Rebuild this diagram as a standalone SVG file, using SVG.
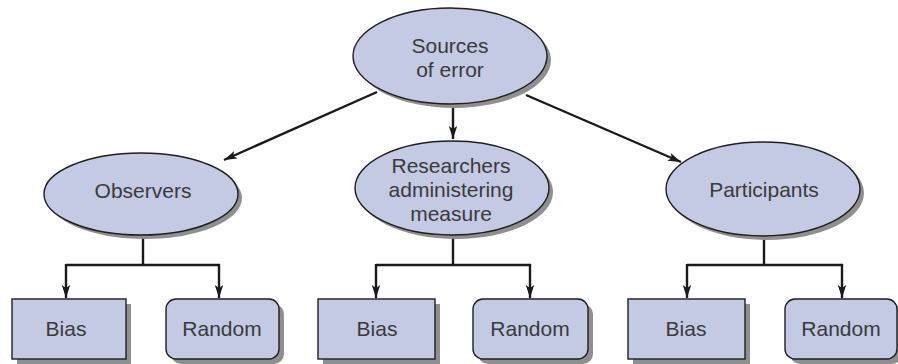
<svg xmlns="http://www.w3.org/2000/svg" width="898" height="364" viewBox="0 0 898 364">
<defs>
<style>
.node{fill:#c4cae3;stroke:#1e1e1e;stroke-width:1.4}
.shadow{fill:#8f8f8f}
.lbl{font-family:"Liberation Sans",Arial,sans-serif;font-size:21px;fill:#3a3a3a;text-anchor:middle}
.conn{fill:none;stroke:#1a1a1a;stroke-width:2.4}
</style>
<marker id="ah" markerUnits="userSpaceOnUse" markerWidth="14" markerHeight="10" refX="13" refY="5" orient="auto">
<path d="M0,0.8 L13,5 L0,9.2 L3,5 Z" fill="#1a1a1a"/>
</marker>
</defs>
<rect width="898" height="364" fill="#fff"/>
<g id="connectors">
<path class="conn" d="M377,92 L224,160" marker-end="url(#ah)"/>
<path class="conn" d="M453,106 L453,139" marker-end="url(#ah)"/>
<path class="conn" d="M526,95 L681,162" marker-end="url(#ah)"/>
<path class="conn" d="M143,236 V265 M66,265 H220"/>
<path class="conn" d="M66,264 V298" marker-end="url(#ah)"/>
<path class="conn" d="M219,264 V298" marker-end="url(#ah)"/>
<path class="conn" d="M453,236 V265 M376,265 H531"/>
<path class="conn" d="M376,264 V298" marker-end="url(#ah)"/>
<path class="conn" d="M530,264 V298" marker-end="url(#ah)"/>
<path class="conn" d="M764,237 V265 M687,265 H843"/>
<path class="conn" d="M687,264 V298" marker-end="url(#ah)"/>
<path class="conn" d="M842,264 V298" marker-end="url(#ah)"/>
</g>
<g id="sources">
<ellipse class="shadow" cx="454" cy="60" rx="97" ry="48"/>
<ellipse class="node" cx="450" cy="56" rx="97" ry="48"/>
<text class="lbl" x="450" y="53">Sources</text>
<text class="lbl" x="450" y="77">of error</text>
</g>
<g id="observers">
<ellipse class="shadow" cx="145" cy="198" rx="97" ry="41"/>
<ellipse class="node" cx="141" cy="194" rx="97" ry="41"/>
<text class="lbl" x="143" y="198">Observers</text>
</g>
<g id="researchers">
<ellipse class="shadow" cx="456" cy="192" rx="97" ry="47"/>
<ellipse class="node" cx="452" cy="188" rx="97" ry="47"/>
<text class="lbl" x="451" y="173">Researchers</text>
<text class="lbl" x="451" y="197">administering</text>
<text class="lbl" x="451" y="221">measure</text>
</g>
<g id="participants">
<ellipse class="shadow" cx="767" cy="193" rx="97" ry="47"/>
<ellipse class="node" cx="763" cy="189" rx="97" ry="47"/>
<text class="lbl" x="764" y="197">Participants</text>
</g>
<g id="obs-bias">
<rect class="shadow" x="17" y="304" width="114" height="60"/>
<rect class="node" x="12" y="299" width="114" height="60"/>
<text class="lbl" x="66" y="336">Bias</text>
</g>
<g id="obs-random">
<rect class="shadow" x="171" y="304" width="113" height="60" rx="10"/>
<rect class="node" x="166" y="299" width="113" height="60" rx="10"/>
<text class="lbl" x="222" y="336">Random</text>
</g>
<g id="res-bias">
<rect class="shadow" x="323" y="304" width="117" height="60"/>
<rect class="node" x="318" y="299" width="117" height="60"/>
<text class="lbl" x="377" y="336">Bias</text>
</g>
<g id="res-random">
<rect class="shadow" x="478" y="304" width="115" height="60" rx="10"/>
<rect class="node" x="473" y="299" width="115" height="60" rx="10"/>
<text class="lbl" x="530" y="336">Random</text>
</g>
<g id="par-bias">
<rect class="shadow" x="633" y="304" width="117" height="60"/>
<rect class="node" x="628" y="299" width="117" height="60"/>
<text class="lbl" x="686" y="336">Bias</text>
</g>
<g id="par-random">
<rect class="shadow" x="790" y="304" width="112" height="60" rx="10"/>
<rect class="node" x="785" y="299" width="112" height="60" rx="10"/>
<text class="lbl" x="841" y="336">Random</text>
</g>
</svg>
